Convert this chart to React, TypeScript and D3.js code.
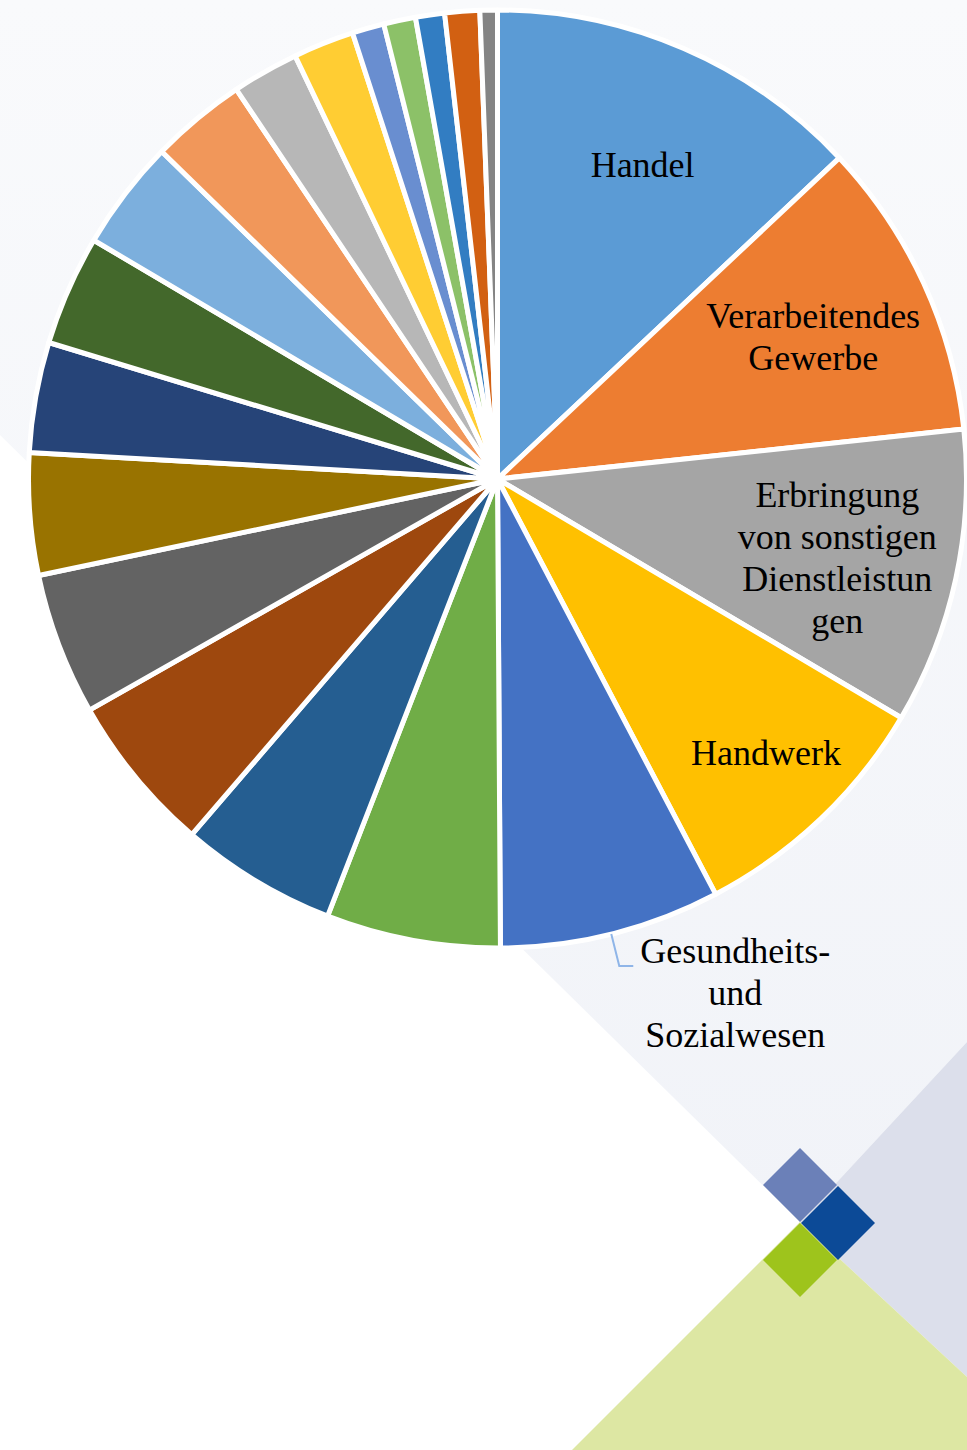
import React from "react";
import * as d3 from "d3";

// ---- data (shares in %, clockwise from 12 o'clock) ----
const categories = [
  "Handel",
  "Verarbeitendes Gewerbe",
  "Erbringung von sonstigen Dienstleistungen",
  "Handwerk",
  "Gesundheits- und Sozialwesen",
  "Kategorie 6",
  "Kategorie 7",
  "Kategorie 8",
  "Kategorie 9",
  "Kategorie 10",
  "Kategorie 11",
  "Kategorie 12",
  "Kategorie 13",
  "Kategorie 14",
  "Kategorie 15",
  "Kategorie 16",
  "Kategorie 17",
  "Kategorie 18",
  "Kategorie 19",
  "Kategorie 20",
  "Kategorie 21",
];
const shares = [13.0, 10.3, 10.2, 8.8, 7.6, 6.0, 5.4, 5.5, 4.9, 4.2, 3.8, 3.8, 3.8, 3.3, 2.3, 2.1, 1.1, 1.1, 1.0, 1.2, 0.6];
const colors = [
  "#5b9bd5", "#ed7d31", "#a5a5a5", "#ffc000", "#4472c4", "#70ad47",
  "#255e91", "#9e480e", "#636363", "#997300", "#264478", "#43682b",
  "#7cafdd", "#f1975a", "#b7b7b7", "#ffcd33", "#698ed0", "#8cc168",
  "#327dc2", "#d26012", "#848484",
];
const labelLines = [
  ["Handel"],
  ["Verarbeitendes", "Gewerbe"],
  ["Erbringung", "von sonstigen", "Dienstleistun", "gen"],
  ["Handwerk"],
  ["Gesundheits-", "und", "Sozialwesen"],
];

const W = 967;
const H = 1450;
const CX = 497.5;
const CY = 479;
const R = 469;
const FONT = "'Liberation Serif', 'Times New Roman', serif";
const FS = 36;
const LH = 42;

// inside-label placement (radius, angle tweak in degrees) for labels 0..3
const insideLabelCfg = [
  { r: 346, da: 1.4 },
  { r: 346, da: 0.5 },
  { r: 349, da: 0.9 },
  { r: 384, da: -0.8 },
];

export default function App() {
  const pie = d3
    .pie<number>()
    .sort(null)
    .value((d) => d)
    .startAngle(0)
    .endAngle(2 * Math.PI);
  const arcs = pie(shares);
  const arc = d3.arc<d3.PieArcDatum<number>>().innerRadius(0).outerRadius(R);

  const polar = (a: number, r: number): [number, number] => [
    CX + r * Math.sin(a),
    CY - r * Math.cos(a),
  ];

  const insideLabels = insideLabelCfg.map((cfg, i) => {
    const a = (arcs[i].startAngle + arcs[i].endAngle) / 2 + (cfg.da * Math.PI) / 180;
    const [x, y] = polar(a, cfg.r);
    const lines = labelLines[i];
    const firstBase = y - ((lines.length - 1) * LH) / 2 + FS * 0.33;
    return (
      <text key={"l" + i} x={x} y={firstBase} textAnchor="middle" fontFamily={FONT} fontSize={FS} fill="#000">
        {lines.map((t, j) => (
          <tspan key={j} x={x} y={firstBase + j * LH}>
            {t}
          </tspan>
        ))}
      </text>
    );
  });

  // outside label for slice 4 with leader line
  const g = arcs[4];
  const ga = (g.startAngle + g.endAngle) / 2;
  const [lx0, ly0] = polar(ga, R);
  const lx1 = lx0 + 8;
  const ly1 = ly0 + 32;
  const lx2 = lx1 + 14;
  const gx = lx2 + 102;
  const gBase = ly1 - 3;

  // background decoration
  const apex: [number, number] = [800, 1222];
  const lightPoly = [[0, 0], [W, 0], [W, 1042], apex, [0, 435]];
  const lavPoly = [apex, [W, 1042], [W, 1377]];
  const greenPoly = [apex, [W, 1377], [W, H], [572, H]];
  const pts = (p: number[][]) => p.map((q) => q.join(",")).join(" ");
  const d = 37;
  const diamond = (cx: number, cy: number) =>
    pts([[cx, cy - d], [cx + d, cy], [cx, cy + d], [cx - d, cy]]);

  return (
    <div style={{ position: "absolute", left: 0, top: 0, width: W, height: H }}>
      <svg width={W} height={H} viewBox={`0 0 ${W} ${H}`} style={{ display: "block" }}>
        <defs>
          <linearGradient id="bgGrad" x1="0" y1="0" x2="0" y2="1">
            <stop offset="0" stopColor="#f9fafc" />
            <stop offset="1" stopColor="#f1f3f8" />
          </linearGradient>
        </defs>
        <rect x={0} y={0} width={W} height={H} fill="#ffffff" />
        <polygon points={pts(lightPoly)} fill="url(#bgGrad)" />
        <polygon points={pts(lavPoly)} fill="#dcdfeb" />
        <polygon points={pts(greenPoly)} fill="#dde7a3" />
        <polygon points={diamond(800, 1185)} fill="#6b80b8" />
        <polygon points={diamond(838, 1223)} fill="#0c4a97" />
        <polygon points={diamond(800, 1260)} fill="#9ec41c" />

        <g transform={`translate(${CX},${CY})`}>
          {arcs.map((a, i) => (
            <path
              key={categories[i]}
              d={arc(a) || ""}
              fill={colors[i]}
              stroke="#ffffff"
              strokeWidth={5}
              strokeLinejoin="round"
            />
          ))}
        </g>

        {insideLabels}

        <polyline
          points={`${lx0},${ly0} ${lx1},${ly1} ${lx2},${ly1}`}
          fill="none"
          stroke="#8fb5e8"
          strokeWidth={2}
        />
        <text x={gx} y={gBase} textAnchor="middle" fontFamily={FONT} fontSize={FS} fill="#000">
          {labelLines[4].map((t, j) => (
            <tspan key={j} x={gx} y={gBase + j * LH}>
              {t}
            </tspan>
          ))}
        </text>
      </svg>
    </div>
  );
}
